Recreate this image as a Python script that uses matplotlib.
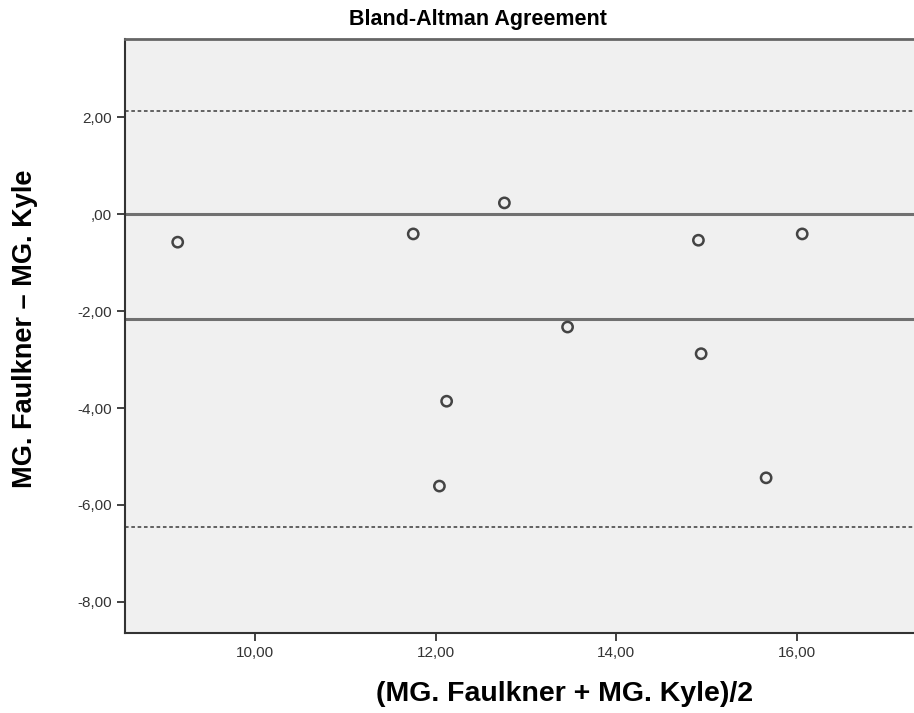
import matplotlib
matplotlib.use("Agg")
import matplotlib.pyplot as plt
from matplotlib.ticker import FuncFormatter
import numpy as np

# mean of the two raters and their difference
avg = [9.14, 11.75, 12.76, 14.91, 16.06, 13.46, 14.94, 12.12, 12.04, 15.66]
diff = [-0.58, -0.41, 0.23, -0.54, -0.41, -2.33, -2.88, -3.86, -5.61, -5.44]

bias = -2.17
upper_loa = 2.12
lower_loa = -6.45

xticks = [10, 12, 14, 16]
yticks = [2, 0, -2, -4, -6, -8]


def comma_fmt(v, pos):
    s = "{:.2f}".format(v).replace(".", ",")
    if s.startswith("0,"):
        s = s[1:]
    return s


fig = plt.figure(figsize=(9.14, 7.13), dpi=100)
ax = fig.add_axes([125 / 914, 1 - 633 / 713, (914 - 125) / 914 + 0.01, (633 - 39) / 713])
ax.set_facecolor("#f0f0f0")
fig.patch.set_facecolor("white")

ax.axhline(0, color="#707070", lw=2.2, zorder=1)
ax.axhline(bias, color="#707070", lw=2.2, zorder=1)
ax.axhline(upper_loa, color="#555555", lw=1.3, ls=(0, (2, 1.5)), zorder=1)
ax.axhline(lower_loa, color="#555555", lw=1.3, ls=(0, (2, 1.5)), zorder=1)

ax.scatter(avg, diff, s=55, facecolors="none", edgecolors="#444444", linewidths=1.8, zorder=3)

ax.set_xlim(8.556, 17.4)
ax.set_ylim(-8.64, 3.61)
ax.set_xticks(xticks)
ax.set_yticks(yticks)
ax.xaxis.set_major_formatter(FuncFormatter(comma_fmt))
ax.yaxis.set_major_formatter(FuncFormatter(comma_fmt))
ax.tick_params(axis="both", length=6, width=1.3, color="#333333",
               labelsize=11, labelcolor="#333333")

for side in ["left", "bottom"]:
    ax.spines[side].set_linewidth(1.5)
    ax.spines[side].set_color("#333333")
ax.spines["top"].set_linewidth(2.0)
ax.spines["top"].set_color("#666666")
ax.spines["right"].set_visible(False)

fam = ["Liberation Sans", "DejaVu Sans"]
fig.text(478 / 914, 1 - 19 / 713, "Bland-Altman Agreement", ha="center", va="center",
         fontsize=15.5, fontweight="bold", family=fam)
fig.text(565 / 914, 1 - 694 / 713, "(MG. Faulkner + MG. Kyle)/2",
         ha="center", va="center", fontsize=20.5, fontweight="bold", family=fam)
fig.text(25 / 914, 1 - 329 / 713, "MG. Faulkner \u2013 MG. Kyle", ha="center", va="center",
         rotation=90, fontsize=19.5, fontweight="bold", family=fam)

for lbl in ax.get_xticklabels() + ax.get_yticklabels():
    lbl.set_family(fam)

fig.savefig("out.png", dpi=100)
